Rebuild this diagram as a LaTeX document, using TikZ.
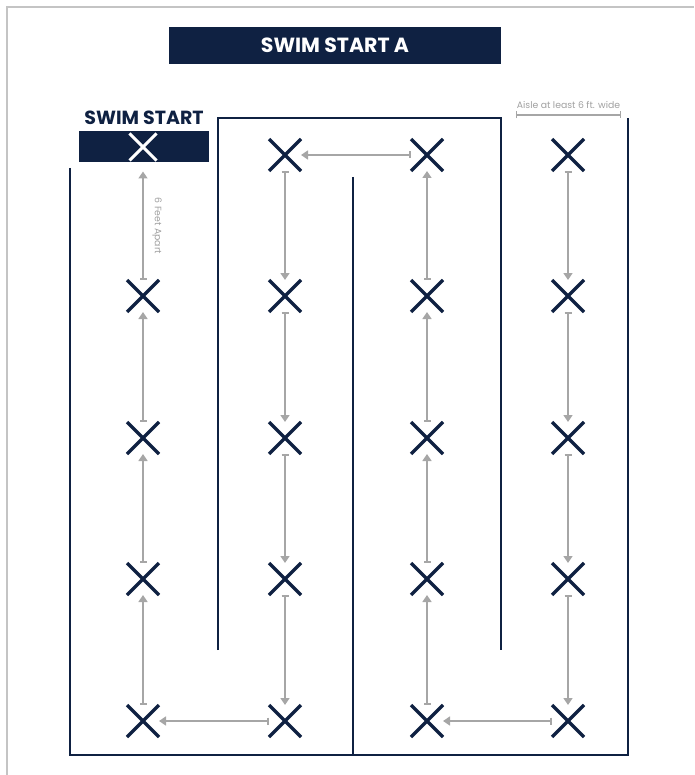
\documentclass[tikz,border=0pt]{standalone}
\usepackage{fontspec}
\setmainfont{Poppins}
\usepackage{tikz}
\usetikzlibrary{positioning,arrows.meta,shapes.misc}
\definecolor{navy}{HTML}{0F2142}
\definecolor{arrowgray}{HTML}{A6A6A6}
\definecolor{notegray}{HTML}{A0A0A0}
\definecolor{framegray}{HTML}{C4C4C4}

\begin{document}
\begin{tikzpicture}[
    x=1pt, y=-1pt,
    xmark/.style={cross out, draw=navy, line width=3.5pt, minimum size=26pt, inner sep=0pt, outer sep=3pt},
    flow/.style={{Bar[width=7pt]}-{Triangle[width=9pt,length=7pt]}, draw=arrowgray, line width=1.6pt},
    dim/.style={{Bar[width=7pt]}-{Bar[width=7pt]}, draw=arrowgray, line width=1.3pt},
    wall/.style={draw=navy, line width=2.6pt},
    note/.style={font=\fontsize{9.3}{11}\selectfont, text=notegray},
    banner/.style={fill=navy, text=white, font=\fontsize{20.5}{24}\selectfont\bfseries}
]
\useasboundingbox (0,0) rectangle (694,775);

% Frame
\draw[framegray, line width=2pt] (7,775) -- (7,7) -- (694,7);

% Title
\node[banner, minimum width=332pt, minimum height=37pt] (title) at (335,45.5) {SWIM START A};

% Start
\node[banner, minimum width=130pt, minimum height=31pt] (startbox) at (144,147) {};
\node[xmark, draw=white, minimum size=21pt, line width=3pt] (startx) at (143,147) {};
\node[above=3pt of startbox, text=navy, font=\fontsize{19}{22}\selectfont\bfseries] (startlabel) {SWIM START};

% Walls
\draw[wall] (70,168) -- (70,755) -- (628,755) -- (628,118);
\draw[wall] (218,650) -- (218,118) -- (501,118) -- (501,650);
\draw[wall] (353,177) -- (353,755);

% Column 1
\node[xmark] (c12) at (143,296) {};
\node[xmark] (c13) at (143,438) {};
\node[xmark] (c14) at (143,579) {};
\node[xmark] (c15) at (143,721) {};

% Column 2
\node[xmark] (c21) at (285,155) {};
\node[xmark] (c22) at (285,296) {};
\node[xmark] (c23) at (285,438) {};
\node[xmark] (c24) at (285,579) {};
\node[xmark] (c25) at (285,721) {};

% Column 3
\node[xmark] (c31) at (427,155) {};
\node[xmark] (c32) at (427,296) {};
\node[xmark] (c33) at (427,438) {};
\node[xmark] (c34) at (427,579) {};
\node[xmark] (c35) at (427,721) {};

% Column 4
\node[xmark] (c41) at (568,155) {};
\node[xmark] (c42) at (568,296) {};
\node[xmark] (c43) at (568,438) {};
\node[xmark] (c44) at (568,579) {};
\node[xmark] (c45) at (568,721) {};

% Arrows
\draw[flow] (c41) -- (c42);
\draw[flow] (c42) -- (c43);
\draw[flow] (c43) -- (c44);
\draw[flow] (c44) -- (c45);
\draw[flow] (c45) -- (c35);
\draw[flow] (c35) -- (c34);
\draw[flow] (c34) -- (c33);
\draw[flow] (c33) -- (c32);
\draw[flow] (c32) -- (c31);
\draw[flow] (c31) -- (c21);
\draw[flow] (c21) -- (c22);
\draw[flow] (c22) -- (c23);
\draw[flow] (c23) -- (c24);
\draw[flow] (c24) -- (c25);
\draw[flow] (c25) -- (c15);
\draw[flow] (c15) -- (c14);
\draw[flow] (c14) -- (c13);
\draw[flow] (c13) -- (c12);
\draw[flow, shorten >=11pt] (c12) -- (startx);

% Notes
\node[note, rotate=-90] (feetnote) at (157,226) {6 Feet Apart};
\coordinate (aisleL) at (516,115);
\coordinate (aisleR) at (621,115);
\draw[dim] (aisleL) -- (aisleR) node[midway, above=2pt, note] (aislenote) {Aisle at least 6 ft. wide};

\end{tikzpicture}
\end{document}
